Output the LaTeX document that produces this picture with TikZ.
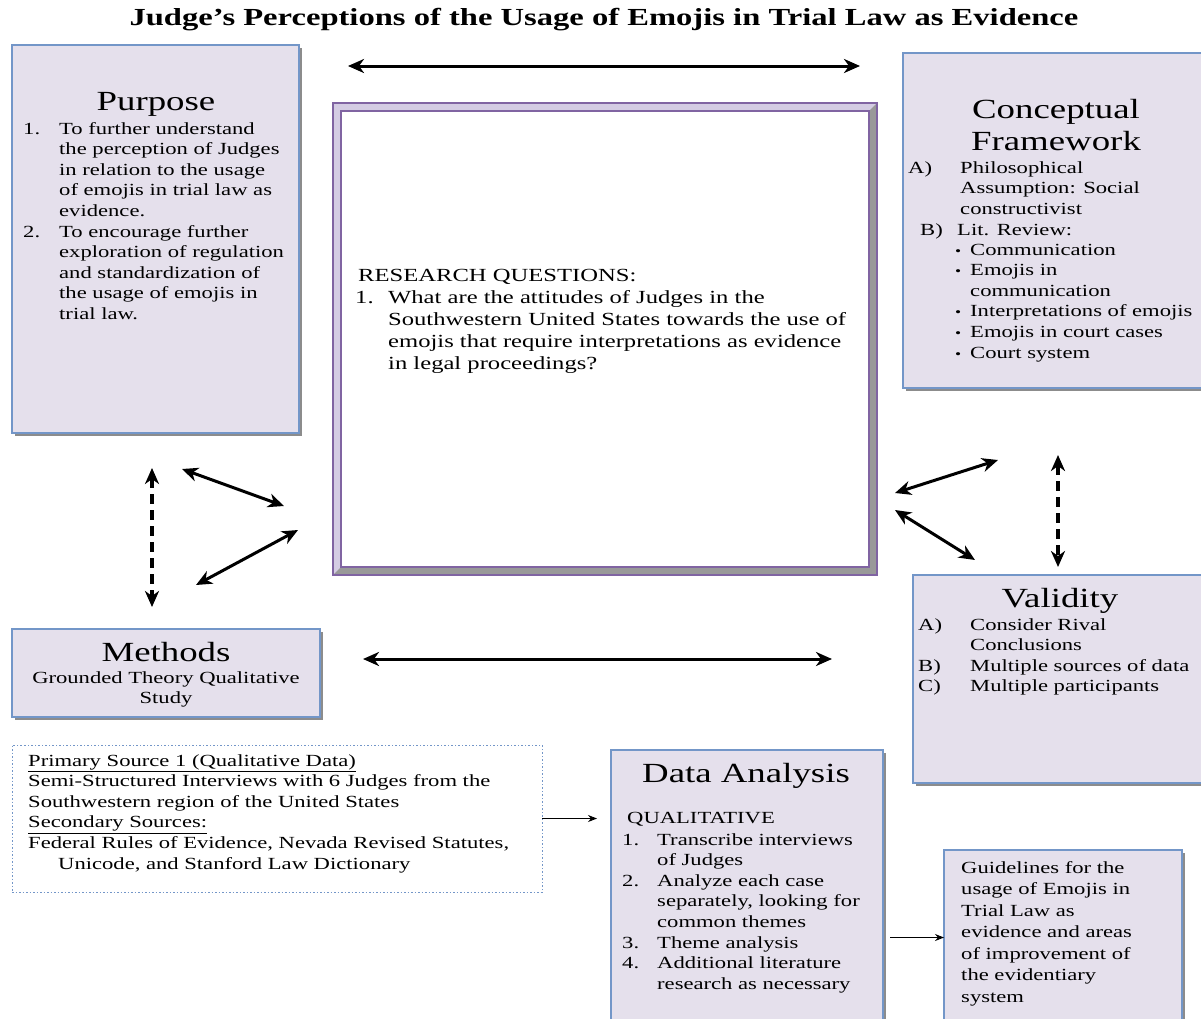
\documentclass[tikz,border=0pt]{standalone}
\usepackage{fontspec}
\setmainfont{Liberation Serif}[FakeStretch=1.33]
\usetikzlibrary{arrows.meta,positioning,shadows}

\definecolor{boxfill}{HTML}{E5E0EC}
\definecolor{boxline}{HTML}{7396C8}
\definecolor{frameline}{HTML}{8064A2}
\definecolor{framefill}{HTML}{D4CCE3}

\newcommand{\bodyfont}{\fontsize{17}{20.6}\selectfont}
\newcommand{\headfont}{\fontsize{27.7}{32}\selectfont}
\newcommand{\bul}{{\fontsize{13}{13}\selectfont\textbullet}}

\begin{document}
\begin{tikzpicture}[x=1pt,y=-1pt,
  box/.style={draw=boxline,fill=boxfill,line width=1.2pt,anchor=north west,
    inner sep=0pt,outer sep=0pt,
    drop shadow={shadow xshift=2.5pt,shadow yshift=-2.5pt,fill=black!45,opacity=1}},
  txt/.style={anchor=base west,inner sep=0pt,font=\bodyfont},
  txtc/.style={anchor=base,inner sep=0pt,font=\bodyfont},
  head/.style={anchor=base,inner sep=0pt,font=\headfont},
  bigarrow/.style={{Stealth[length=16pt,width=14pt,inset=5pt]}-{Stealth[length=16pt,width=14pt,inset=5pt]},
    line width=3pt},
  dasharrow/.style={bigarrow,line width=3.5pt,dash pattern=on 10pt off 6pt},
  thinarrow/.style={-{Stealth[length=9pt,width=7pt]},line width=1pt}]
\useasboundingbox (0,0) rectangle (1201,1018);
\fill[white] (0,0) rectangle (1201,1018);

% title
\node[anchor=base,inner sep=0pt,font=\fontsize{24.5}{28}\selectfont\bfseries] (title) at (604,25)
  {Judge's Perceptions of the Usage of Emojis in Trial Law as Evidence};

% boxes
\node[box,minimum width=287pt,minimum height=388pt] (purpose) at (12,45) {};
\node[box,minimum width=302pt,minimum height=335pt] (concept) at (903,53) {};
\node[box,minimum width=308pt,minimum height=88pt] (methods) at (12,629) {};
\node[box,minimum width=292pt,minimum height=208pt] (valid) at (913,575) {};
\node[box,minimum width=272pt,minimum height=275pt] (analysis) at (611,750) {};
\node[box,minimum width=238pt,minimum height=175pt] (guide) at (944,850) {};
\node[draw=boxline,line width=1pt,dash pattern=on 1.5pt off 2pt,anchor=north west,
  inner sep=0pt,outer sep=0pt,minimum width=530pt,minimum height=147pt] (source) at (12,745) {};

% research questions frame
\node[draw=frameline,fill=framefill,line width=2pt,anchor=north west,inner sep=0pt,
  outer sep=0pt,minimum width=544pt,minimum height=472pt] (rq) at (333,103) {};
\fill[black!40] (rq.north east) -- (rq.south east) -- (rq.south west)
  -- ([shift={(8,-8)}]rq.south west) -- ([shift={(-8,-8)}]rq.south east)
  -- ([shift={(-8,8)}]rq.north east) -- cycle;
\draw[frameline,line width=2pt] (rq.north west) rectangle (rq.south east);
\draw[frameline,line width=2pt,fill=white] ([shift={(8,8)}]rq.north west)
  rectangle ([shift={(-8,-8)}]rq.south east);

% purpose
\node[head] (purpose-h) at (156,110) {Purpose};
\node[txt] (purpose-l) at (23,134) {\begin{tabular}[t]{@{}p{36pt}@{}l@{}}
1.&To further understand\\&the perception of Judges\\&in relation to the usage\\
&of emojis in trial law as\\&evidence.\\
2.&To encourage further\\&exploration of regulation\\&and standardization of\\
&the usage of emojis in\\&trial law.\end{tabular}};

% research questions
\node[txt,font=\fontsize{18.5}{22}\selectfont] (rq-h) at (358,281) {RESEARCH QUESTIONS:};
\node[txt,font=\fontsize{18.5}{22}\selectfont] (rq-l) at (355,303) {\begin{tabular}[t]{@{}p{33pt}@{}l@{}}
1.&What are the attitudes of Judges in the\\
&Southwestern United States towards the use of\\
&emojis that require interpretations as evidence\\
&in legal proceedings?\end{tabular}};

% conceptual framework
\node[head] (concept-h1) at (1056,118) {Conceptual};
\node[head] (concept-h2) at (1056,150) {Framework};
\node[txt] (concept-a) at (908,173) {\begin{tabular}[t]{@{}p{52pt}@{}l@{}}
A)&Philosophical\\&Assumption: Social\\&constructivist\end{tabular}};
\node[txt] (concept-b) at (920,235) {\begin{tabular}[t]{@{}p{37pt}@{}l@{}}
B)&Lit. Review:\end{tabular}};
\node[txt] (concept-lit) at (955,255) {\begin{tabular}[t]{@{}p{15pt}@{}l@{}}
\bul&Communication\\
\bul&Emojis in\\&communication\\
\bul&Interpretations of emojis\\
\bul&Emojis in court cases\\
\bul&Court system\end{tabular}};

% methods
\node[head] (methods-h) at (166,661) {Methods};
\node[txtc] (methods-t) at (166,683) {\begin{tabular}[t]{@{}c@{}}
Grounded Theory Qualitative\\Study\end{tabular}};

% validity
\node[head] (valid-h) at (1060,607) {Validity};
\node[txt] (valid-l) at (918,630) {\begin{tabular}[t]{@{}p{52pt}@{}l@{}}
A)&Consider Rival\\&Conclusions\\
B)&Multiple sources of data\\
C)&Multiple participants\end{tabular}};

% sources
\node[txt] (source-t) at (28,766) {\begin{tabular}[t]{@{}l@{}}
\underline{Primary Source 1 (Qualitative Data)}\\
Semi-Structured Interviews with 6 Judges from the\\
Southwestern region of the United States\\
\underline{Secondary Sources:}\\
Federal Rules of Evidence, Nevada Revised Statutes,\\
\hspace{30pt}Unicode, and Stanford Law Dictionary\end{tabular}};

% data analysis
\node[head] (analysis-h) at (746,782) {Data Analysis};
\node[txt] (analysis-q) at (627,823) {QUALITATIVE};
\node[txt] (analysis-l) at (622,845) {\begin{tabular}[t]{@{}p{35pt}@{}l@{}}
1.&Transcribe interviews\\&of Judges\\
2.&Analyze each case\\&separately, looking for\\&common themes\\
3.&Theme analysis\\
4.&Additional literature\\&research as necessary\end{tabular}};

% guidelines
\node[txt,font=\fontsize{17}{21.5}\selectfont] (guide-t) at (961,873) {\begin{tabular}[t]{@{}l@{}}
Guidelines for the\\usage of Emojis in\\Trial Law as\\evidence and areas\\
of improvement of\\the evidentiary\\system\end{tabular}};

% arrows
\coordinate (top-l) at (348,66);   \coordinate (top-r) at (860,66);
\coordinate (bot-l) at (363,659);  \coordinate (bot-r) at (832,659);
\coordinate (lv-t) at (152,468);   \coordinate (lv-b) at (152,607);
\coordinate (la-1) at (182,469);   \coordinate (la-2) at (284,506);
\coordinate (la-3) at (298,530);   \coordinate (la-4) at (196,585);
\coordinate (ra-1) at (895,493);   \coordinate (ra-2) at (998,460);
\coordinate (ra-3) at (895,510);   \coordinate (ra-4) at (975,560);
\coordinate (rv-t) at (1058,455);  \coordinate (rv-b) at (1058,567);

\draw[bigarrow] (top-l) -- (top-r);
\draw[bigarrow] (bot-l) -- (bot-r);
\draw[bigarrow] (la-1) -- (la-2);
\draw[bigarrow] (la-3) -- (la-4);
\draw[bigarrow] (ra-1) -- (ra-2);
\draw[bigarrow] (ra-3) -- (ra-4);
\draw[dasharrow] (lv-t) -- (lv-b);
\draw[dasharrow] (rv-t) -- (rv-b);

\draw[thinarrow,shorten >=14pt] (source.east) -- (source.east -| analysis.west);
\draw[thinarrow,shorten <=7pt] (analysis.east |- guide.west) -- (guide.west);
\end{tikzpicture}
\end{document}
